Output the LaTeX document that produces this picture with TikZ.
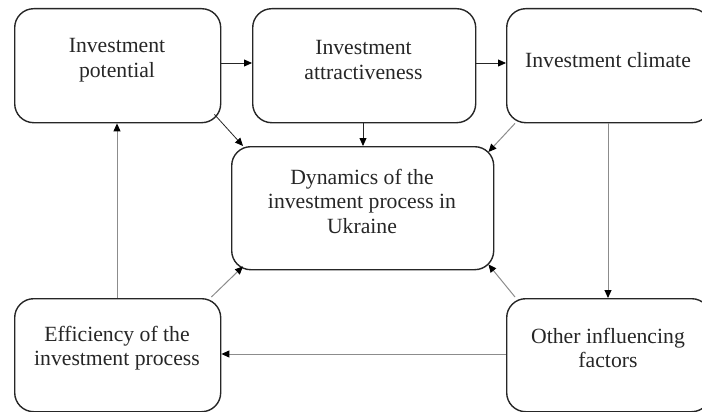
\documentclass[tikz,border=0pt]{standalone}
\usepackage{fontspec}
\setmainfont{Liberation Serif}
\usetikzlibrary{arrows.meta}
\begin{document}
\begin{tikzpicture}[x=1pt,y=-1pt,
  box/.style={draw=black!85,line width=1.4pt,rounded corners=19pt,anchor=north west,inner sep=0pt},
  lbl/.style={align=center,inner sep=0pt,font=\fontsize{21.7}{24.5}\selectfont,text=black!85},
  tip/.style={-{Triangle[length=8pt,width=7pt,color=black]}},
  blk/.style={tip,draw=black!85,line width=0.8pt},
  gry/.style={tip,draw=black!45,line width=1pt}]
\useasboundingbox (0,0) rectangle (702,412);
\node[box,minimum width=206pt,minimum height=114pt] (p) at (14,8) {};
\node[box,minimum width=223pt,minimum height=114pt] (a) at (252,8) {};
\node[box,minimum width=204pt,minimum height=114pt] (c) at (506,8) {};
\node[box,minimum width=262pt,minimum height=123pt] (d) at (231,146) {};
\node[box,minimum width=206pt,minimum height=113pt] (e) at (14,298) {};
\node[box,minimum width=204pt,minimum height=113pt] (o) at (506,298) {};
\node[lbl] (pt) at (117,60) {Investment\\potential};
\node[lbl] (at) at (363.5,60) {Investment\\attractiveness};
\node[lbl] (ct) at (608,60) {Investment climate};
\node[lbl] (dt) at (362,201) {Dynamics of the\\investment process in\\Ukraine};
\node[lbl] (et) at (117,348) {Efficiency of the\\investment process};
\node[lbl] (ot) at (608,348) {Other influencing\\factors};
% connectors
\draw[blk] (p.east |- 0,63) -- (a.west |- 0,63);
\draw[blk] (a.east |- 0,63) -- (c.west |- 0,63);
\draw[blk] ([shift={(-7,-9)}]p.south east) -- ([shift={(12,0)}]d.north west);
\draw[blk] (a.south -| 363,0) -- (d.north -| 363,0);
\draw[gry] ([shift={(9,0)}]c.south west) -- ([shift={(-6,6)}]d.north east);
\draw[gry] (c.south -| 608,0) -- (o.north -| 608,0);
\draw[gry] ([shift={(9,-1)}]o.north west) -- ([shift={(-6,-6)}]d.south east);
\draw[gry] (o.west |- 0,354) -- (e.east |- 0,354);
\draw[gry] (e.north -| 117,0) -- (p.south -| 117,0);
\draw[gry] ([shift={(-10,-1)}]e.north east) -- ([shift={(12,-4)}]d.south west);
\end{tikzpicture}
\end{document}
